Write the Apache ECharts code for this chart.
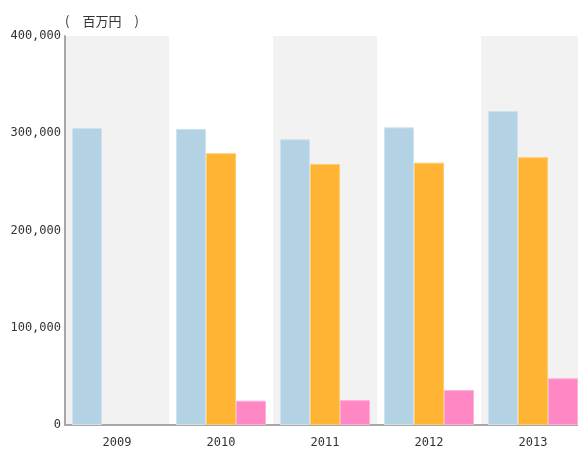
<!DOCTYPE html>
<html>
<head>
<meta charset="utf-8">
<script src="https://cdn.jsdelivr.net/npm/echarts@6/dist/echarts.min.js"></script>
<style>
  html, body { margin: 0; padding: 0; background: #fff; }
  #chart { width: 578px; height: 450px; }
</style>
</head>
<body>
<div id="chart"></div>
<script>
const years = ['2009', '2010', '2011', '2012', '2013'];
const seriesA = [305400, 304500, 293800, 306100, 322900];
const seriesB = [null, 279400, 268400, 269700, 275300];
const seriesC = [null, 25000, 25700, 36000, 48000];
const unitLabel = '(\u3000百万円\u3000)';

const labelFont = 'DejaVu Sans Mono, monospace';

const myChart = echarts.init(document.getElementById('chart'));

const option = {
  backgroundColor: '#fff',
  animation: false,
  title: {
    text: unitLabel,
    left: 60,
    top: 10,
    textStyle: {
      fontFamily: 'Noto Sans CJK JP',
      fontSize: 13,
      fontWeight: 'normal',
      color: '#333'
    }
  },
  grid: {
    left: 65,
    top: 36,
    right: -7,
    bottom: 25,
    outerBoundsMode: 'none'
  },
  xAxis: {
    type: 'category',
    data: years,
    axisLine: { lineStyle: { color: '#a8a8a8', width: 2 } },
    axisTick: { show: false },
    axisLabel: {
      color: '#333',
      fontFamily: labelFont,
      fontSize: 12,
      margin: 12
    },
    splitArea: {
      show: true,
      areaStyle: { color: ['#f2f2f2', '#ffffff'] }
    }
  },
  yAxis: {
    type: 'value',
    min: 0,
    max: 400000,
    interval: 100000,
    axisLine: { show: true, lineStyle: { color: '#a8a8a8', width: 2 } },
    axisTick: { show: false },
    axisLabel: {
      color: '#333',
      fontFamily: labelFont,
      fontSize: 12,
      margin: 4,
      formatter: v => v.toLocaleString('en-US')
    },
    splitLine: {
      showMaxLine: false,
      lineStyle: { color: '#d0d0d0' }
    }
  },
  series: [
    {
      type: 'bar',
      data: seriesA,
      barWidth: 30,
      barGap: '0%',
      itemStyle: { color: '#b3d3e5', borderColor: '#cfe3ee', borderWidth: 1 }
    },
    {
      type: 'bar',
      data: seriesB,
      barWidth: 30,
      itemStyle: { color: '#ffb433', borderColor: '#ffca70', borderWidth: 1 }
    },
    {
      type: 'bar',
      data: seriesC,
      barWidth: 30,
      itemStyle: { color: '#ff88c4', borderColor: '#ffb0d8', borderWidth: 1 }
    }
  ]
};

myChart.setOption(option);
</script>
</body>
</html>
